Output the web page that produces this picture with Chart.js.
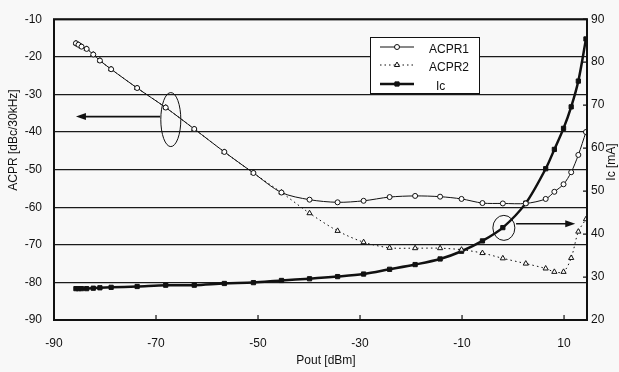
<!DOCTYPE html>
<html>
<head>
<meta charset="utf-8">
<script src="https://cdn.jsdelivr.net/npm/chart.js@4/dist/chart.umd.min.js"></script>
<style>
  html, body { margin: 0; padding: 0; background: #f8f8f8; }
  #wrap { width: 619px; height: 372px; }
</style>
</head>
<body>
<div id="wrap"><canvas id="chart"></canvas></div>
<script>
// Pout values (dBm)
const pout = [-85.7, -85.2, -84.6, -83.6, -82.3, -81.0, -78.8, -73.7, -68.1, -62.5,
              -56.6, -50.9, -45.4, -39.9, -34.4, -29.3, -24.2, -19.2, -14.3, -10.1,
              -6.0, -2.0, 2.5, 6.4, 8.1, 9.9, 11.4, 12.8, 14.3];

const acpr1 = [-16.4, -16.8, -17.3, -17.9, -19.4, -21.0, -23.3, -28.3, -33.5, -39.2,
               -45.3, -50.9, -56.1, -58.0, -58.7, -58.3, -57.3, -57.0, -57.2, -57.8,
               -58.9, -59.0, -59.0, -57.8, -55.9, -53.9, -50.7, -46.1, -40.0];

const acpr2 = [-16.4, -16.8, -17.3, -17.9, -19.4, -21.0, -23.3, -28.3, -33.5, -39.2,
               -45.3, -50.9, -56.1, -61.6, -66.3, -69.3, -70.8, -70.9, -70.9, -71.3,
               -72.2, -73.6, -75.0, -76.3, -77.2, -77.2, -73.5, -66.5, -63.2];

// collector current Ic (mA), right axis
const ic = [27.3, 27.3, 27.3, 27.3, 27.4, 27.5, 27.6, 27.8, 28.1, 28.1,
            28.5, 28.7, 29.2, 29.6, 30.1, 30.7, 31.8, 32.9, 34.2, 36.0,
            38.4, 41.5, 47.2, 55.2, 59.7, 64.6, 69.6, 75.6, 85.4];

const xTicks = [-90, -70, -50, -30, -10, 10];
const seriesNames = ['ACPR1', 'ACPR2', 'Ic'];

const FONT = 'Liberation Sans, Arial, sans-serif';
const INK = '#111';

function pts(ys) {
    return pout.map((x, i) => ({ x: x, y: ys[i] }));
}

// frame, inward tick marks, axis titles, legend box and the two callouts
const extras = {
    id: 'extras',
    beforeDraw(chart) {
        const c = chart.ctx;
        c.save();
        c.fillStyle = '#f8f8f8';
        c.fillRect(0, 0, chart.width, chart.height);
        c.restore();
    },
    afterDraw(chart) {
        const c = chart.ctx;
        const a = chart.chartArea;
        const sx = chart.scales.x;
        const sy = chart.scales.y;
        const sy1 = chart.scales.y1;
        c.save();

        // plot frame
        c.strokeStyle = INK;
        c.lineWidth = 2;
        c.strokeRect(a.left, a.top, a.right - a.left, a.bottom - a.top);

        // small inward ticks on bottom and right axes
        c.lineWidth = 1.2;
        c.beginPath();
        sx.ticks.forEach(t => {
            const px = sx.getPixelForValue(t.value);
            c.moveTo(px, a.bottom);
            c.lineTo(px, a.bottom - 5);
        });
        sy1.ticks.forEach(t => {
            const py = sy1.getPixelForValue(t.value);
            c.moveTo(a.right, py);
            c.lineTo(a.right - 4, py);
        });
        c.stroke();

        // axis titles
        c.fillStyle = INK;
        c.font = '12px ' + FONT;
        c.textAlign = 'center';
        c.textBaseline = 'middle';
        c.fillText('Pout [dBm]', 326, 361);
        c.save();
        c.translate(14, 140);
        c.rotate(-Math.PI / 2);
        c.fillText('ACPR [dBc/30kHz]', 0, 0);
        c.restore();
        c.save();
        c.translate(612, 162);
        c.rotate(-Math.PI / 2);
        c.fillText('Ic [mA]', 0, 0);
        c.restore();

        // callout on ACPR curves (left axis)
        c.strokeStyle = INK;
        c.lineWidth = 1;
        c.beginPath();
        c.ellipse(sx.getPixelForValue(-67.1), sy.getPixelForValue(-36.7), 10, 27, 0, 0, Math.PI * 2);
        c.stroke();
        arrow(c, sx.getPixelForValue(-69.2), sx.getPixelForValue(-85.7), sy.getPixelForValue(-35.9));

        // callout on Ic curve (right axis)
        c.beginPath();
        c.ellipse(sx.getPixelForValue(-1.8), sy.getPixelForValue(-65.5), 11, 12.5, 0, 0, Math.PI * 2);
        c.stroke();
        arrow(c, sx.getPixelForValue(0.6), sx.getPixelForValue(12.2), sy.getPixelForValue(-64.4));

        // legend
        const lx = 370, ly = 37, lw = 109, lh = 56;
        c.fillStyle = '#ffffff';
        c.fillRect(lx, ly, lw, lh);
        c.strokeStyle = INK;
        c.lineWidth = 1;
        c.strokeRect(lx + 0.5, ly + 0.5, lw, lh);
        const rows = [47, 65, 84];
        chart.data.datasets.forEach((ds, i) => {
            const y = rows[i];
            c.save();
            c.strokeStyle = INK;
            c.lineWidth = ds.borderWidth;
            c.setLineDash(ds.borderDash || []);
            c.beginPath();
            c.moveTo(380, y);
            c.lineTo(414, y);
            c.stroke();
            c.setLineDash([]);
            c.lineWidth = 1;
            c.fillStyle = ds.pointBackgroundColor;
            Chart.helpers.drawPoint(c, { pointStyle: ds.pointStyle, radius: ds.pointRadius, borderWidth: 1, rotation: 0 }, 397, y);
            c.restore();
            c.fillStyle = INK;
            c.font = '12px ' + FONT;
            c.textAlign = 'left';
            c.textBaseline = 'middle';
            c.fillText(seriesNames[i], i === 2 ? 436 : 429, y + 3);
        });

        c.restore();
    }
};

function arrow(c, x1, x2, y) {
    const dir = Math.sign(x2 - x1);
    c.save();
    c.strokeStyle = INK;
    c.fillStyle = INK;
    c.lineWidth = 1.6;
    c.beginPath();
    c.moveTo(x1, y);
    c.lineTo(x2 - dir * 8, y);
    c.stroke();
    c.beginPath();
    c.moveTo(x2, y);
    c.lineTo(x2 - dir * 10, y - 3.5);
    c.lineTo(x2 - dir * 10, y + 3.5);
    c.closePath();
    c.fill();
    c.restore();
}

new Chart(document.getElementById('chart'), {
    type: 'line',
    data: {
        datasets: [
            {
                label: 'ACPR1',
                data: pts(acpr1),
                yAxisID: 'y',
                borderColor: INK,
                borderWidth: 1,
                pointStyle: 'circle',
                pointRadius: 2.5,
                pointBackgroundColor: '#ffffff',
                pointBorderColor: INK,
                pointBorderWidth: 1,
                tension: 0.3
            },
            {
                label: 'ACPR2',
                data: pts(acpr2),
                yAxisID: 'y',
                borderColor: INK,
                borderWidth: 1,
                borderDash: [1.5, 3],
                pointStyle: 'triangle',
                pointRadius: 3,
                pointBackgroundColor: '#ffffff',
                pointBorderColor: INK,
                pointBorderWidth: 1,
                tension: 0.3
            },
            {
                label: 'Ic',
                data: pts(ic),
                yAxisID: 'y1',
                borderColor: INK,
                borderWidth: 2.5,
                pointStyle: 'rect',
                pointRadius: 3,
                pointBackgroundColor: INK,
                pointBorderColor: INK,
                pointBorderWidth: 1,
                tension: 0.3
            }
        ]
    },
    options: {
        responsive: true,
        maintainAspectRatio: false,
        animation: false,
        layout: { padding: { top: 13, left: 0, right: 0, bottom: 0 } },
        plugins: {
            legend: { display: false },
            tooltip: { enabled: false }
        },
        scales: {
            x: {
                type: 'linear',
                min: -90,
                max: 14.5,
                afterBuildTicks: axis => { axis.ticks = xTicks.map(v => ({ value: v })); },
                afterFit: axis => { axis.height = 52; },
                border: { display: false },
                grid: { display: false, drawTicks: false },
                ticks: { color: INK, font: { family: FONT, size: 12 }, padding: 16, maxRotation: 0 }
            },
            y: {
                position: 'left',
                min: -90,
                max: -10,
                afterFit: axis => { axis.width = 54; },
                border: { display: false },
                grid: { color: '#1a1a1a', lineWidth: 1.3, drawTicks: false },
                ticks: { stepSize: 10, color: INK, font: { family: FONT, size: 12 }, padding: 12 }
            },
            y1: {
                position: 'right',
                min: 20,
                max: 90,
                afterFit: axis => { axis.width = 32; },
                border: { display: false },
                grid: { display: false, drawTicks: false },
                ticks: { stepSize: 10, color: INK, font: { family: FONT, size: 12 }, padding: 4 }
            }
        }
    },
    plugins: [extras]
});
</script>
</body>
</html>
